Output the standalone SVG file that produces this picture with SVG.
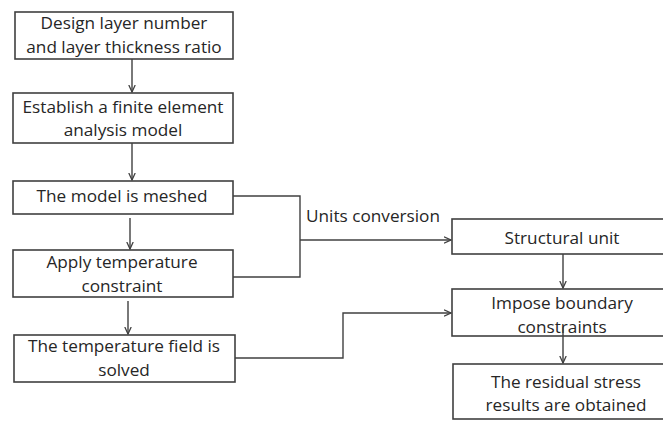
<svg xmlns="http://www.w3.org/2000/svg" width="663" height="421" viewBox="0 0 663 421">
<style>
.box{fill:#fff;stroke:#404040;stroke-width:1.6}
.t{font-family:"Open Sans","Liberation Sans",sans-serif;font-size:17.2px;fill:#262626;text-anchor:middle}
.c{fill:none;stroke:#404040;stroke-width:1.4}
</style>
<defs>
<marker id="a" viewBox="0 0 8 8" refX="7.5" refY="4" markerWidth="8" markerHeight="8" markerUnits="userSpaceOnUse" orient="auto">
<path d="M0.5,0.8 L7.5,4 L0.5,7.2" fill="none" stroke="#404040" stroke-width="1.3"/>
</marker>
</defs>
<g id="n1"><rect class="box" x="15" y="12" width="218" height="47"/><text class="t" x="124" y="29">Design layer number</text><text class="t" x="124" y="53">and layer thickness ratio</text></g>
<g id="n2"><rect class="box" x="13" y="93" width="220" height="50"/><text class="t" x="123" y="113">Establish a finite element</text><text class="t" x="123" y="136">analysis model</text></g>
<g id="n3"><rect class="box" x="13" y="181" width="220" height="33"/><text class="t" x="122" y="202">The model is meshed</text></g>
<g id="n4"><rect class="box" x="13" y="250" width="220" height="47"/><text class="t" x="122" y="268">Apply temperature</text><text class="t" x="122" y="292">constraint</text></g>
<g id="n5"><rect class="box" x="14" y="335" width="221" height="47"/><text class="t" x="124" y="352">The temperature field is</text><text class="t" x="124" y="376">solved</text></g>
<g id="n6"><rect class="box" x="452" y="219" width="220" height="35"/><text class="t" x="562" y="244">Structural unit</text></g>
<g id="n7"><rect class="box" x="452" y="289" width="220" height="47"/><text class="t" x="562" y="309">Impose boundary</text><text class="t" x="562" y="333">constraints</text></g>
<g id="n8"><rect class="box" x="453" y="364" width="220" height="55"/><text class="t" x="566" y="388">The residual stress</text><text class="t" x="566" y="411">results are obtained</text></g>
<g id="connectors">
<line class="c" x1="132" y1="59" x2="132" y2="92" marker-end="url(#a)"/>
<line class="c" x1="132" y1="143" x2="132" y2="180" marker-end="url(#a)"/>
<line class="c" x1="130" y1="218" x2="130" y2="249" marker-end="url(#a)"/>
<line class="c" x1="128" y1="301" x2="128" y2="334" marker-end="url(#a)"/>
<polyline class="c" points="233,196 300,196 300,277 233,277"/>
<line class="c" x1="300" y1="240" x2="451" y2="240" marker-end="url(#a)"/>
<text class="t" x="373" y="222">Units conversion</text>
<polyline class="c" points="235,358 343,358 343,313 451,313" marker-end="url(#a)"/>
<line class="c" x1="563" y1="254" x2="563" y2="288" marker-end="url(#a)"/>
<line class="c" x1="563" y1="327" x2="563" y2="363" marker-end="url(#a)"/>
</g>
</svg>
